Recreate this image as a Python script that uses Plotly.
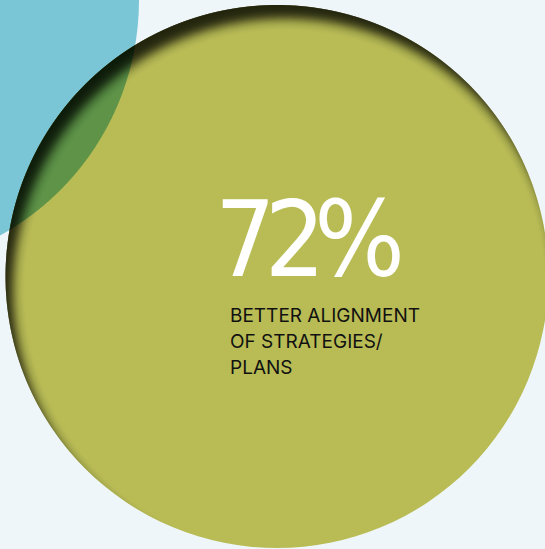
import math
import numpy as np
import plotly.graph_objects as go

# ---- content ----
value = 72
label_lines = ["BETTER ALIGNMENT", "OF STRATEGIES/", "PLANS"]

# ---- canvas ----
W, H = 545, 549
BG = "#eef6f9"
BLUE = "#7ac5d6"
OLIVE = "#b9bc55"
LENS = "#5e9348"

# circles: (cx, cy, r) in pixel space (y grows downward)
blue_c = (-130.0, 0.0, 269.0)
green_c = (277.0, 276.5, 271.5)

# inner shadow of the big circle
shadow_offset = (8.0, 14.0)
shadow_sigma = 5.0
shadow_strength = 0.78


def circle_pts(cx, cy, r, a0, a1, n=160):
    a = np.linspace(a0, a1, n)
    return np.column_stack([cx + r * np.cos(a), cy + r * np.sin(a)])


def half_span(r1, r2, d):
    """Half angle of circle-1's boundary lying inside circle 2."""
    v = (r1 * r1 + d * d - r2 * r2) / (2 * r1 * d)
    return math.acos(max(-1.0, min(1.0, v)))


def intersection_path(c1, c2):
    (x1, y1, r1), (x2, y2, r2) = c1, c2
    d = math.hypot(x2 - x1, y2 - y1)
    ang = math.atan2(y2 - y1, x2 - x1)
    g1 = half_span(r1, r2, d)
    g2 = half_span(r2, r1, d)
    p1 = circle_pts(x1, y1, r1, ang - g1, ang + g1)
    p2 = circle_pts(x2, y2, r2, ang + math.pi - g2, ang + math.pi + g2)
    return np.vstack([p1, p2])


def crescent_path(c1, c2):
    """Part of circle 1 that lies outside circle 2 (circles must intersect)."""
    (x1, y1, r1), (x2, y2, r2) = c1, c2
    d = math.hypot(x2 - x1, y2 - y1)
    ang = math.atan2(y2 - y1, x2 - x1)
    g1 = half_span(r1, r2, d)
    g2 = half_span(r2, r1, d)
    p1 = circle_pts(x1, y1, r1, ang + g1, ang + 2 * math.pi - g1, 240)
    p2 = circle_pts(x2, y2, r2, ang + math.pi + g2, ang + math.pi - g2, 240)
    return np.vstack([p1, p2])


def to_svg(pts):
    s = "M " + " L ".join(f"{x:.2f},{y:.2f}" for x, y in pts)
    return s + " Z"


shapes = []
# blue disc
bx, by, br = blue_c
shapes.append(dict(type="circle", xref="x", yref="y",
                   x0=bx - br, x1=bx + br, y0=by - br, y1=by + br,
                   fillcolor=BLUE, line=dict(width=0), layer="above"))
# olive disc
gx, gy, gr = green_c
shapes.append(dict(type="circle", xref="x", yref="y",
                   x0=gx - gr, x1=gx + gr, y0=gy - gr, y1=gy + gr,
                   fillcolor=OLIVE, line=dict(width=0), layer="above"))
# overlap of the two discs
shapes.append(dict(type="path", xref="x", yref="y",
                   path=to_svg(intersection_path(green_c, blue_c)),
                   fillcolor=LENS, line=dict(width=0), layer="above"))

# stacked crescents give a soft inner shadow along the upper-left rim
ox, oy = shadow_offset
off_len = math.hypot(ox, oy)
thresholds = np.arange(-2.2 * shadow_sigma, min(3.0 * shadow_sigma, off_len - 0.5), 1.0)


def transmit(t):
    return 1.0 - shadow_strength * 0.5 * (1 + math.erf(t / (shadow_sigma * math.sqrt(2))))


prev = 1.0
for t in thresholds:
    cur = transmit(t)
    a = 1.0 - cur / prev
    prev = cur
    if a <= 0.001:
        continue
    inner = (gx + ox, gy + oy, gr + t)
    shapes.append(dict(type="path", xref="x", yref="y",
                       path=to_svg(crescent_path(green_c, inner)),
                       fillcolor=f"rgba(0,0,0,{a:.4f})", line=dict(width=0),
                       layer="above"))

annotations = [
    dict(x=213, y=239, xref="x", yref="y", xanchor="left", yanchor="middle",
         text=f'<span style="letter-spacing:-11px">{value}%</span>', showarrow=False,
         font=dict(family="DejaVu Sans Condensed, DejaVu Sans, sans-serif",
                   size=106, color="white")),
]
line_y = [315, 341, 367]
for txt, yy in zip(label_lines, line_y):
    annotations.append(dict(x=228, y=yy, xref="x", yref="y", xanchor="left",
                            yanchor="middle", text=txt, showarrow=False,
                            font=dict(family="Inter, Roboto, sans-serif",
                                      size=19, color="#111111")))

fig = go.Figure()
fig.update_layout(
    width=W, height=H,
    margin=dict(l=0, r=0, t=0, b=0),
    paper_bgcolor=BG, plot_bgcolor=BG,
    xaxis=dict(range=[0, W], visible=False, fixedrange=True),
    yaxis=dict(range=[H, 0], visible=False, fixedrange=True),
    shapes=shapes,
    annotations=annotations,
    showlegend=False,
)
fig.write_html("out.html", config={"displayModeBar": False})
